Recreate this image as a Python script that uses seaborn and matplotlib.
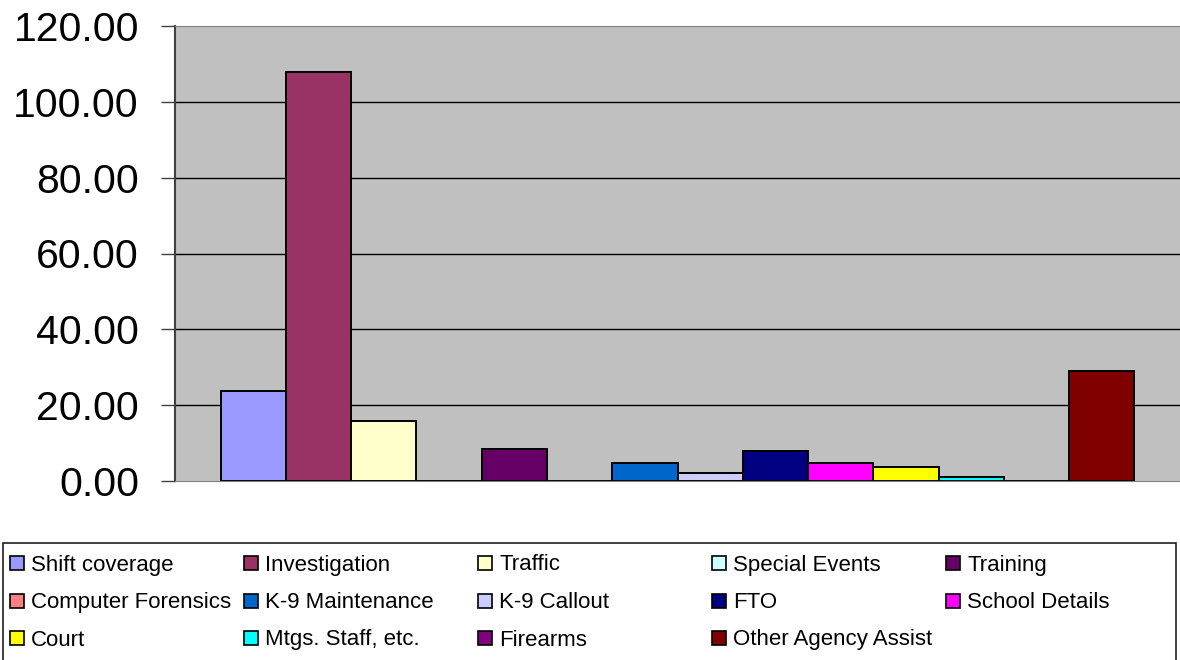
import pandas as pd
import numpy as np
import matplotlib
matplotlib.use('Agg')
import matplotlib.pyplot as plt
import matplotlib.patches as mpatches
import seaborn as sns

# --- Data ---
series = ['Shift coverage', 'Investigation', 'Traffic', 'Special Events', 'Training',
          'Computer Forensics', 'K-9 Maintenance', 'K-9 Callout', 'FTO', 'School Details',
          'Court', 'Mtgs. Staff, etc.', 'Firearms', 'Other Agency Assist']
hours = [23.7, 108.0, 15.8, 0.0, 8.4, 0.0, 4.75, 2.0, 7.9, 4.7, 3.6, 1.0, 0.0, 29.0]
colors = ['#9999FF', '#993366', '#FFFFCC', '#CCFFFF', '#660066', '#FF8080', '#0066CC',
          '#CCCCFF', '#000080', '#FF00FF', '#FFFF00', '#00FFFF', '#800080', '#800000']
yticks = [0, 20, 40, 60, 80, 100, 120]

df = pd.DataFrame({'group': [''] * len(series), 'series': series, 'hours': hours})

# --- Style ---
sns.set_style('white')
plt.rcParams['font.family'] = ['Liberation Sans', 'DejaVu Sans']
plt.rcParams['text.color'] = 'black'
plt.rcParams['ytick.color'] = 'black'

W, H = 1180, 660
fig = plt.figure(figsize=(W / 100, H / 100), dpi=100)
ax = fig.add_axes([175 / W, 1 - 481 / H, 1005 / W, (481 - 26) / H])
ax.set_facecolor('#C0C0C0')

sns.barplot(data=df, x='group', y='hours', hue='series', hue_order=series,
            palette=colors, saturation=1, width=0.909, edgecolor='black',
            linewidth=1.4, legend=False, ax=ax)

ax.set_xlim(-0.5, 0.5)
ax.set_ylim(0, 120)
ax.set_yticks(yticks)
ax.set_yticklabels([f'{v:.2f}' for v in yticks], fontsize=29.5, color='black')
ax.tick_params(axis='y', length=10, width=1, color='#404040', pad=16, left=True)
ax.tick_params(axis='x', length=0, labelbottom=False)
ax.set_xlabel('')
ax.set_ylabel('')

for v in yticks[1:-1]:
    ax.axhline(v, color='black', linewidth=1, zorder=0.5)

ax.spines['left'].set_color('#404040')
ax.spines['left'].set_linewidth(1.5)
ax.spines['top'].set_color('#808080')
ax.spines['bottom'].set_color('#808080')
ax.spines['right'].set_visible(False)

# --- Legend (equal-width columns like the original) ---
fig.patches.append(mpatches.Rectangle((3 / W, -2 / H), 1173 / W, (H - 543 + 2) / H,
                                      transform=fig.transFigure, facecolor='white',
                                      edgecolor='#202020', linewidth=1.2, zorder=0))
for i, (name, col) in enumerate(zip(series, colors)):
    r, c = divmod(i, 5)
    x0 = 10 + c * 234
    yc = 563 + r * 37.5
    fig.patches.append(mpatches.Rectangle((x0 / W, (H - yc - 7) / H), 14 / W, 14 / H,
                                          transform=fig.transFigure, facecolor=col,
                                          edgecolor='black', linewidth=1.2, zorder=2))
    fig.text((x0 + 21) / W, (H - yc - 7.5) / H, name, fontsize=16,
             va='baseline', ha='left', color='black')

fig.savefig('out.png', dpi=100)
